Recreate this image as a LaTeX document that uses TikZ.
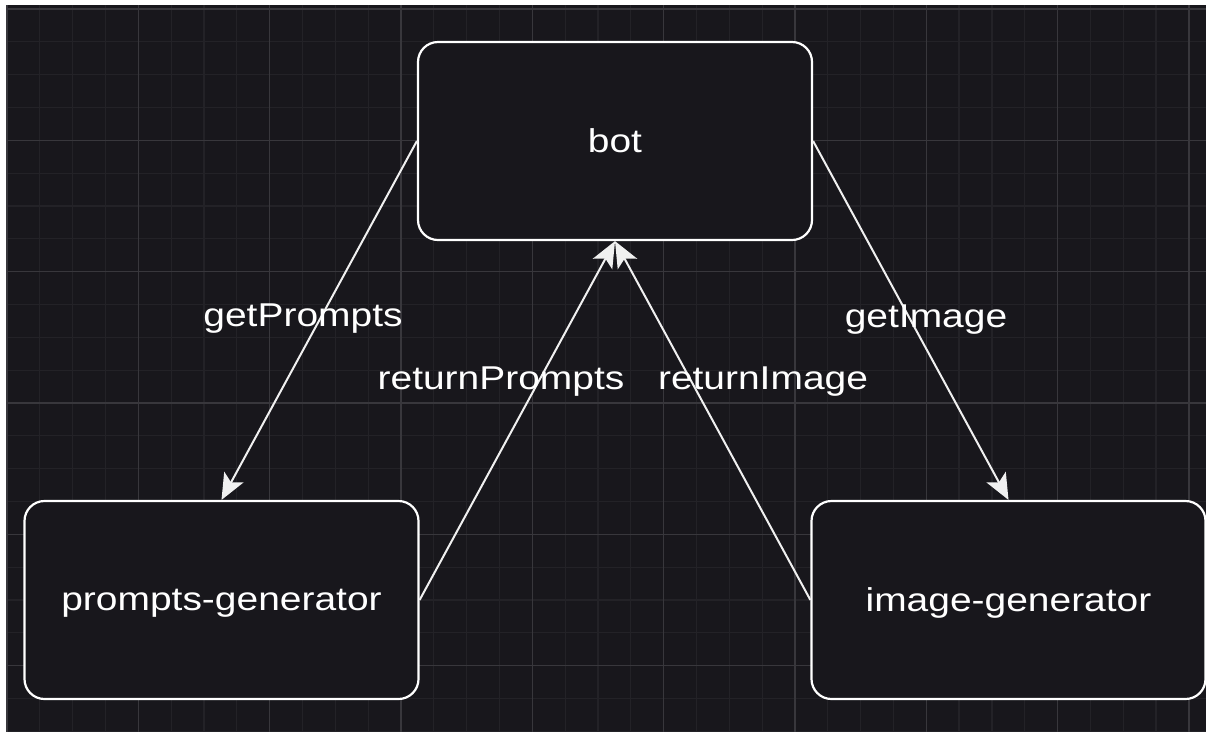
\documentclass[tikz,border=0pt]{standalone}
\usepackage{fontspec}
\setmainfont[FakeStretch=1.18]{Liberation Sans}
\usetikzlibrary{arrows.meta}
\definecolor{canvas}{HTML}{18171C}
\definecolor{gridminor}{HTML}{232227}
\definecolor{gridmajor}{HTML}{38373C}
\tikzset{
  service/.style={draw=white, line width=2.2pt, fill=canvas, rounded corners=20pt,
    minimum width=394pt, minimum height=198pt, text=white, text depth=0pt,
    font=\fontsize{33}{40}\selectfont},
  call/.style={draw=white!94!black, line width=2pt,
    -{Stealth[length=26pt,width=22pt,inset=6pt]}},
  calllabel/.style={text=white, anchor=base, inner sep=0pt,
    font=\fontsize{33}{40}\selectfont}
}
\begin{document}
\begin{tikzpicture}[x=1pt,y=-1pt]
\useasboundingbox (0,0) rectangle (1206,732);
\fill[white] (0,0) rectangle (1206,732);
\fill[canvas] (7,5) rectangle (1206,732);
% grid
\foreach \i in {1,...,36} \draw[gridminor,line width=1.2pt] ({7+\i*32.83},5) -- ({7+\i*32.83},732);
\foreach \j in {0,...,22} \draw[gridminor,line width=1.2pt] (7,{9+\j*32.83}) -- (1206,{9+\j*32.83});
\foreach \i in {0,...,9} \draw[gridmajor,line width=1.4pt] ({7+\i*131.32},5) -- ({7+\i*131.32},732);
\foreach \j in {0,...,5} \draw[gridmajor,line width=1.4pt] (7,{9+\j*131.32}) -- (1206,{9+\j*131.32});
% services
\node[service] (bot) at (615,141) {bot};
\node[service] (prompts) at (221.5,600) {prompts-generator};
\node[service] (image) at (1008.5,600) {image-generator};
% calls
\draw[call] (bot.west) -- (prompts.north);
\draw[call] (prompts.east) -- (bot.south);
\draw[call] (bot.east) -- (image.north);
\draw[call] (image.west) -- (bot.south);
% labels
\node[calllabel] (getprompts) at (303,326) {getPrompts};
\node[calllabel] (returnprompts) at (501,389) {returnPrompts};
\node[calllabel] (getimage) at (926,327) {getImage};
\node[calllabel] (returnimage) at (763,389) {returnImage};
\end{tikzpicture}
\end{document}
